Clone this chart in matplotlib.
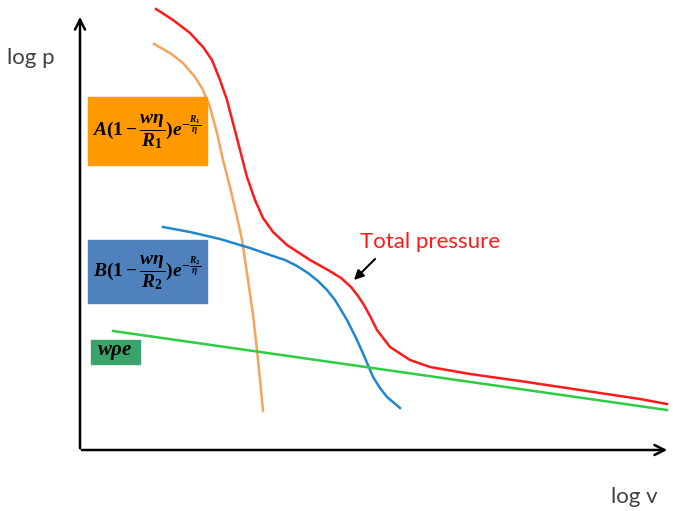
import matplotlib.pyplot as plt
from matplotlib.patches import Rectangle

# ==============================
# DATOS (coordenadas en pixeles)
# ==============================

total_x = [156, 173, 190, 203, 212, 220, 227, 233, 240, 247, 255, 263, 273, 287,
           310, 328, 341, 351, 358, 364, 370, 377, 390, 410, 430, 470, 520, 580, 640, 667]
total_y = [9, 20, 33, 47, 60, 80, 100, 123, 150, 177, 200, 218, 232, 245,
           260, 270, 278, 287, 296, 305, 316, 330, 347, 360, 367, 374, 381, 390, 399, 404]

naranja_x = [154, 170, 183, 195, 203, 210, 217, 223, 230, 237, 242, 248, 253, 257, 260, 263]
naranja_y = [44, 53, 63, 77, 90, 107, 133, 160, 187, 217, 240, 280, 315, 350, 380, 411]

azul_x = [163, 190, 220, 250, 270, 285, 297, 308, 318, 327, 335, 347, 357, 365, 373, 380, 387, 400]
azul_y = [227, 232, 239, 248, 255, 260, 266, 273, 281, 290, 300, 320, 340, 358, 377, 388, 397, 408]

verde_x = [113, 667]
verde_y = [331, 410]

etiqueta_total = "Total pressure"
etiqueta_x = "log v"
etiqueta_y = "log p"
formula_a = r"$A(1-\dfrac{w\eta}{R_1})e^{-\frac{R_1}{\eta}}$"
formula_b = r"$B(1-\dfrac{w\eta}{R_2})e^{-\frac{R_2}{\eta}}$"
formula_c = r"$w\rho e$"

# ==============================
# ESTILO
# ==============================

plt.rcParams["mathtext.fontset"] = "custom"
plt.rcParams["mathtext.it"] = "Liberation Serif:italic:bold"
plt.rcParams["mathtext.rm"] = "Liberation Serif:bold"

fig = plt.figure(figsize=(6.73, 5.11), dpi=100)
ax = fig.add_axes([0, 0, 1, 1])
ax.set_xlim(0, 673)
ax.set_ylim(511, 0)
ax.axis("off")

# Ejes con flechas
ax.annotate("", xy=(80, 14), xytext=(80, 451),
            arrowprops=dict(arrowstyle="->", color="black", lw=1.8, mutation_scale=18))
ax.annotate("", xy=(670, 450), xytext=(79, 450),
            arrowprops=dict(arrowstyle="->", color="black", lw=1.8, mutation_scale=18))

ax.text(7, 58, etiqueta_y, fontsize=16, family="Lato", color="#404040", va="center")
ax.text(611, 497, etiqueta_x, fontsize=16, family="Lato", color="#404040", va="center")

# Curvas
ax.plot(total_x, total_y, color="#ff1a1a", lw=1.8, solid_joinstyle="round")
ax.plot(naranja_x, naranja_y, color="#f7a35c", lw=1.8, solid_joinstyle="round")
ax.plot(azul_x, azul_y, color="#1f86d0", lw=1.8, solid_joinstyle="round")
ax.plot(verde_x, verde_y, color="#2ecc40", lw=1.8)

# Cajas con formulas
ax.add_patch(Rectangle((88, 97), 119, 68, color="#ff9900", zorder=3))
ax.add_patch(Rectangle((88, 240), 119, 63, color="#4f81bd", zorder=3))
ax.add_patch(Rectangle((91, 340), 49, 24, color="#3aa36a", zorder=3))

ax.text(147, 132, formula_a, fontsize=14, ha="center", va="center", zorder=4)
ax.text(147, 273, formula_b, fontsize=14, ha="center", va="center", zorder=4)
ax.text(115, 352, formula_c, fontsize=15, ha="center", va="center", zorder=4)

# Etiqueta presion total
ax.text(360, 242, etiqueta_total, fontsize=16, family="Lato", color="#ff1a1a", va="center")
ax.annotate("", xy=(352, 282), xytext=(377, 257),
            arrowprops=dict(arrowstyle="-|>", color="black", lw=1.5, mutation_scale=14))

plt.savefig("out.png", dpi=100)
plt.close()
